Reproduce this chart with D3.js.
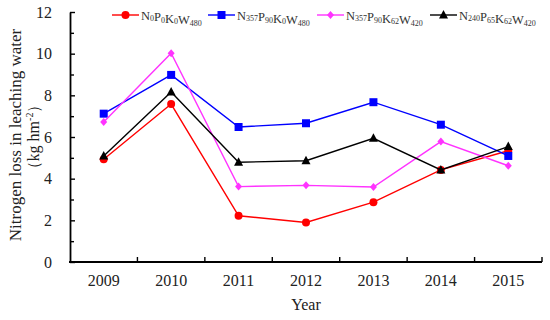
<!DOCTYPE html>
<html><head><meta charset="utf-8">
<script src="https://cdn.jsdelivr.net/npm/d3@7"></script>
<style>body{margin:0;background:#fff}svg{display:block}text{font-family:"Liberation Serif","Times New Roman",serif}</style>
</head><body><svg id="c" width="550" height="320"></svg>
<script>
const years = ["2009","2010","2011","2012","2013","2014","2015"];
const n0p0k0w480 = [4.93, 7.58, 2.22, 1.90, 2.87, 4.42, 5.34];
const n357p90k0w480 = [7.12, 8.98, 6.48, 6.66, 7.67, 6.59, 5.09];
const n357p90k62w420 = [6.72, 10.02, 3.62, 3.68, 3.60, 5.78, 4.62];
const n240p65k62w420 = [5.09, 8.16, 4.79, 4.86, 5.94, 4.42, 5.54];
const yTicks = [0, 2, 4, 6, 8, 10, 12];
const yMinor = [1, 3, 5, 7, 9, 11];

const series = [
  {parts:[["N","0"],["P","0"],["K","0"],["W","480"]], values:n0p0k0w480, color:"#ff0000", marker:"circle"},
  {parts:[["N","357"],["P","90"],["K","0"],["W","480"]], values:n357p90k0w480, color:"#0000ff", marker:"square"},
  {parts:[["N","357"],["P","90"],["K","62"],["W","420"]], values:n357p90k62w420, color:"#ff33ff", marker:"diamond"},
  {parts:[["N","240"],["P","65"],["K","62"],["W","420"]], values:n240p65k62w420, color:"#000000", marker:"triangle"}
];

const svg = d3.select("#c");
const L = 70, R = 542, T = 12, B = 262;
const x = d3.scaleBand().domain(years).range([L, R]).padding(0);
const y = d3.scaleLinear().domain([0, 12]).range([B, T]);

// Y axis
const yAx = svg.append("g").attr("transform", `translate(${L},0)`)
  .call(d3.axisLeft(y).tickValues(yTicks).tickSizeInner(-5).tickSizeOuter(0).tickPadding(18).tickFormat(d3.format("d")));
yAx.select(".domain").attr("stroke-width", 1.8);
yAx.selectAll(".tick line").attr("stroke-width", 1.4);
yAx.selectAll("text").attr("font-size", 16).attr("fill", "#222");
const yAx2 = svg.append("g").attr("transform", `translate(${L},0)`)
  .call(d3.axisLeft(y).tickValues(yMinor).tickSizeInner(-4).tickSizeOuter(0).tickFormat(""));
yAx2.select(".domain").remove();
yAx2.selectAll(".tick line").attr("stroke-width", 1.4);

// X axis
const xAx = svg.append("g").attr("transform", `translate(0,${B})`)
  .call(d3.axisBottom(x).tickSize(0).tickPadding(13));
xAx.select(".domain").attr("stroke-width", 1.8).attr("d", `M${L - 1},0H${R}`);
xAx.selectAll("text").attr("font-size", 16).attr("fill", "#222");
svg.append("g").selectAll("line").data(years.slice(1).concat(["end"])).join("line")
  .attr("x1", d => d === "end" ? R : x(d)).attr("x2", d => d === "end" ? R : x(d))
  .attr("y1", B).attr("y2", B - 5).attr("stroke", "#000").attr("stroke-width", 1.4);

// Titles
svg.append("text").attr("x", (L + R) / 2).attr("y", 310).attr("text-anchor", "middle")
  .attr("font-size", 16).attr("fill", "#222").text("Year");
svg.append("text").attr("transform", "translate(21,135) rotate(-90)")
  .attr("text-anchor", "middle").attr("font-size", 17).attr("fill", "#222")
  .text("Nitrogen loss in leaching water");
const yt2 = svg.append("text").attr("transform", "translate(39,137) rotate(-90)")
  .attr("text-anchor", "middle").attr("font-size", 16).attr("fill", "#222");
yt2.append("tspan").text("（kg hm");
yt2.append("tspan").attr("font-size", 10).attr("dy", -6).text("-2");
yt2.append("tspan").attr("dy", 6).text("）");

// markers
function drawMarker(g, type, cx, cy, color) {
  if (type === "circle") g.append("circle").attr("cx", cx).attr("cy", cy).attr("r", 4).attr("fill", color);
  else if (type === "square") g.append("rect").attr("x", cx - 4).attr("y", cy - 4).attr("width", 8).attr("height", 8).attr("fill", color);
  else if (type === "diamond") g.append("path").attr("d", `M${cx},${cy - 4}L${cx + 3.5},${cy}L${cx},${cy + 4}L${cx - 3.5},${cy}Z`).attr("fill", color);
  else g.append("path").attr("d", `M${cx},${cy - 5}L${cx + 4.5},${cy + 3.5}L${cx - 4.5},${cy + 3.5}Z`).attr("fill", color);
}

const line = d3.line().x((d, i) => x(years[i]) + x.bandwidth() / 2).y(d => y(d));
series.forEach(s => {
  const g = svg.append("g");
  g.append("path").datum(s.values).attr("d", line).attr("fill", "none").attr("stroke", s.color).attr("stroke-width", 1.4);
  s.values.forEach((v, i) => drawMarker(g, s.marker, x(years[i]) + x.bandwidth() / 2, y(v), s.color));
});

// Legend
const legX = [112, 208, 317, 430];
series.forEach((s, k) => {
  const g = svg.append("g");
  const lx = legX[k], ly = 15;
  g.append("line").attr("x1", lx).attr("x2", lx + 27).attr("y1", ly).attr("y2", ly).attr("stroke", s.color).attr("stroke-width", 1.4);
  drawMarker(g, s.marker, lx + 13.5, ly, s.color);
  const t = g.append("text").attr("x", lx + 29).attr("y", ly + 4.5).attr("font-size", 12.5).attr("fill", "#333");
  s.parts.forEach(p => {
    t.append("tspan").text(p[0]);
    t.append("tspan").attr("font-size", 8).attr("dy", 1.5).text(p[1]);
    t.append("tspan").attr("dy", -1.5).text("");
  });
});
</script></body></html>
